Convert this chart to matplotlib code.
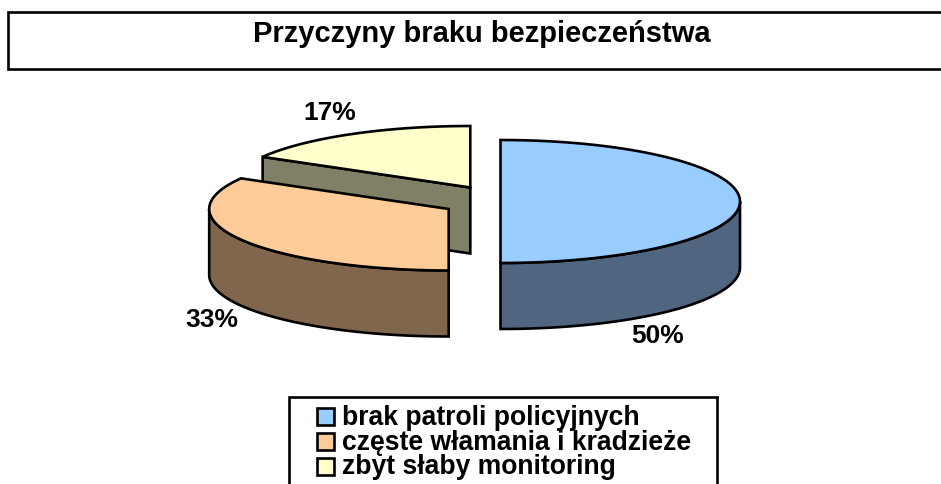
import numpy as np
import matplotlib
matplotlib.use("Agg")
import matplotlib.pyplot as plt
from matplotlib.patches import Polygon, Rectangle

title = "Przyczyny braku bezpieczeństwa"
categories = ["brak patroli policyjnych", "częste włamania i kradzieże", "zbyt słaby monitoring"]
values = [50.0, 33.3, 16.7]
top_colors = ["#99CCFF", "#FFCC99", "#FFFFCC"]
side_colors = ["#4F6580", "#80664D", "#808066"]

plt.rcParams["font.family"] = ["Liberation Sans", "DejaVu Sans"]
LW = 1.9
fig = plt.figure(figsize=(9.41, 4.84), dpi=100)
ax = fig.add_axes([0, 0, 1, 1])
ax.set_xlim(0, 941)
ax.set_ylim(484, 0)
ax.axis("off")

centers = [(500.5, 201.5), (448.7, 209), (470.3, 187.5)]
rx, ry, depth = 239.5, 61.5, 66
label_pos = [(658, 343), (212, 327), (330, 120)]
side_spans = [(-90, 0), (-180, -90), None]


def arc(c, a0, a1, n=120, dy=0):
    t = np.radians(np.linspace(a0, a1, n))
    return np.column_stack([c[0] + rx * np.cos(t), c[1] - ry * np.sin(t) + dy])


def poly(pts, color):
    ax.add_patch(Polygon(pts, closed=True, fc=color, ec="black", lw=LW, joinstyle="miter"))


total = sum(values)
starts = 90 - 360 * np.cumsum([0] + values[:-1]) / total
ends = 90 - 360 * np.cumsum(values) / total

# back to front: smallest slice first
for i in [2, 1, 0]:
    c = centers[i]
    a0, a1 = starts[i], ends[i]
    if side_spans[i] is None:
        # inner wall visible below the slice's cut edge
        edge = arc(c, a0, a0, 1)[0]
        poly([edge, c, (c[0], c[1] + depth), (edge[0], edge[1] + depth)], side_colors[i])
    else:
        lo, hi = side_spans[i]
        poly(np.vstack([arc(c, lo, hi), arc(c, hi, lo, dy=depth)]), side_colors[i])
    poly(np.vstack([arc(c, a0, a1), [c]]), top_colors[i])
    ax.text(label_pos[i][0], label_pos[i][1], f"{values[i]:.0f}%", ha="center", va="baseline",
            fontsize=19, fontweight="bold", color="black")

# title box
ax.add_patch(Rectangle((8, 12), 960, 57, fc="white", ec="black", lw=LW))
ax.text(482, 41.5, title, ha="center", va="baseline", fontsize=21, fontweight="bold", color="black")

# legend box
ax.add_patch(Rectangle((289, 397), 428, 120, fc="white", ec="black", lw=LW))
swatch_tops = [408, 433, 458]
baselines = [425, 450, 474.5]
for name, col, st, bl in zip(categories, top_colors, swatch_tops, baselines):
    ax.add_patch(Rectangle((317, st), 17, 17, fc=col, ec="black", lw=LW))
    ax.text(342, bl, name, ha="left", va="baseline", fontsize=19.1, fontweight="bold", color="black")

fig.savefig("out.png", dpi=100)
